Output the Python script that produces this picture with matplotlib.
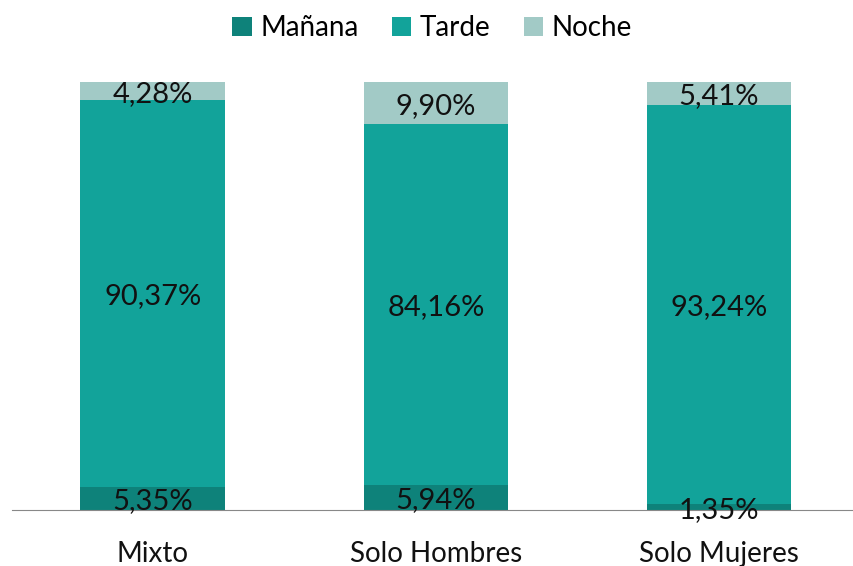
import numpy as np
import matplotlib.pyplot as plt

categories = ['Mixto', 'Solo Hombres', 'Solo Mujeres']
manana = [5.35, 5.94, 1.35]
tarde = [90.37, 84.16, 93.24]
noche = [4.28, 9.90, 5.41]

series = [('Mañana', manana, '#0e827a'),
          ('Tarde', tarde, '#12a39a'),
          ('Noche', noche, '#a2cac6')]

plt.rcParams['font.family'] = ['Lato', 'DejaVu Sans']

fig = plt.figure(figsize=(8.54, 5.66), dpi=100)
ax = fig.add_axes([12 / 854, 56 / 566, 840 / 854, 428 / 566])

x = np.arange(len(categories))
bottom = np.zeros(len(categories))
for name, vals, color in series:
    vals = np.array(vals)
    ax.bar(x, vals, bottom=bottom, width=0.512, color=color, label=name)
    for xi, b, v in zip(x, bottom, vals):
        ax.text(xi, b + v / 2 - 0.6, f"{v:.2f}%".replace('.', ','), ha='center', va='center',
                fontsize=21, color='#111111')
    bottom += vals

ax.set_xlim(-0.498, 2.47)
ax.set_ylim(0, 100)
for s in ['top', 'left', 'right']:
    ax.spines[s].set_visible(False)
ax.spines['bottom'].set_color('#888888')
ax.set_yticks([])
ax.set_xticks(x)
ax.set_xticklabels(categories, fontsize=20, color='#111111')
ax.tick_params(axis='x', length=0, pad=22)

ax.legend(loc='upper center', bbox_to_anchor=(0.5, 1.215), ncol=3, frameon=False,
          fontsize=20, handlelength=0.7, handleheight=0.7, handletextpad=0.3,
          columnspacing=1.2)

fig.savefig('out.png', dpi=100)
